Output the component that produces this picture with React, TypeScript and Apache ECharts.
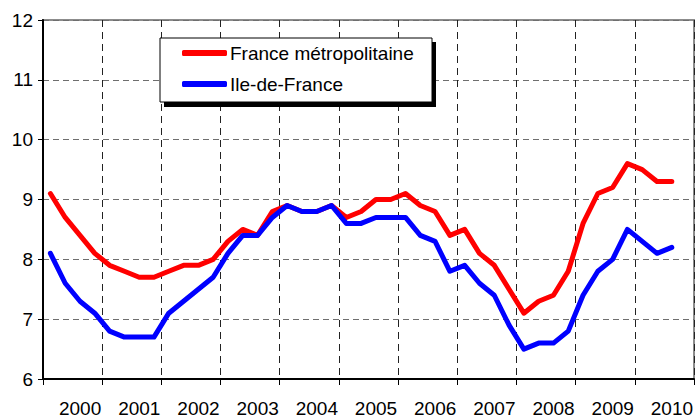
import React, { useEffect, useRef } from "react";
import * as echarts from "echarts";

const years = ["2000", "2001", "2002", "2003", "2004", "2005", "2006", "2007", "2008", "2009", "2010"];
const quarters: string[] = [];
years.forEach((y) => ["T1", "T2", "T3", "T4"].forEach((q) => quarters.push(y + " " + q)));

const franceMetro = [
  9.1, 8.7, 8.4, 8.1, 7.9, 7.8, 7.7, 7.7, 7.8, 7.9, 7.9, 8.0,
  8.3, 8.5, 8.4, 8.8, 8.9, 8.8, 8.8, 8.9, 8.7, 8.8, 9.0, 9.0,
  9.1, 8.9, 8.8, 8.4, 8.5, 8.1, 7.9, 7.5, 7.1, 7.3, 7.4, 7.8,
  8.6, 9.1, 9.2, 9.6, 9.5, 9.3, 9.3,
];
const ileDeFrance = [
  8.1, 7.6, 7.3, 7.1, 6.8, 6.7, 6.7, 6.7, 7.1, 7.3, 7.5, 7.7,
  8.1, 8.4, 8.4, 8.7, 8.9, 8.8, 8.8, 8.9, 8.6, 8.6, 8.7, 8.7,
  8.7, 8.4, 8.3, 7.8, 7.9, 7.6, 7.4, 6.9, 6.5, 6.6, 6.6, 6.8,
  7.4, 7.8, 8.0, 8.5, 8.3, 8.1, 8.2,
];
const seriesNames = ["France métropolitaine", "Ile-de-France"];

const FONT = "'Liberation Sans', Arial, sans-serif";

export default function App() {
  const ref = useRef<HTMLDivElement>(null);
  useEffect(() => {
    if (!ref.current) return;
    const chart = echarts.init(ref.current, null, { renderer: "svg" });
    chart.setOption({
      animation: false,
      backgroundColor: "#ffffff",
      textStyle: { fontFamily: FONT },
      grid: {
        left: 43,
        right: 1,
        top: 20,
        bottom: 41,
        show: true,
        borderColor: "#8c8c8c",
        borderWidth: 2,
        containLabel: false,
      },
      xAxis: [
        {
          type: "category",
          data: years,
          boundaryGap: true,
          position: "bottom",
          axisLine: { show: true, lineStyle: { color: "#000", width: 2 } },
          axisTick: { show: true, length: 6, lineStyle: { color: "#000", width: 1 } },
          axisLabel: {
            color: "#000",
            fontSize: 19,
            fontFamily: FONT,
            margin: 20,
            padding: [0, 0, 0, 15],
          },
          splitLine: { show: true, lineStyle: { color: "#222", type: [7, 5], width: 1 } },
        },
        {
          type: "category",
          data: quarters,
          boundaryGap: true,
          show: false,
        },
      ],
      yAxis: {
        type: "value",
        min: 6,
        max: 12,
        interval: 1,
        axisLine: { show: true, lineStyle: { color: "#000", width: 2 } },
        axisTick: { show: true, length: 5, lineStyle: { color: "#000", width: 1 } },
        axisLabel: { color: "#000", fontSize: 19, fontFamily: FONT, margin: 10 },
        splitLine: { show: true, lineStyle: { color: "#6e6e6e", type: [6, 4], width: 1.2 } },
      },
      legend: {
        show: true,
        orient: "vertical",
        left: 182,
        top: 42,
        padding: 0,
        itemGap: 9,
        itemWidth: 45,
        itemHeight: 6,
        icon: "roundRect",
        z: 10,
        textStyle: { color: "#000", fontSize: 19, fontFamily: FONT, lineHeight: 22, padding: [0, 0, 0, -2] },
        data: seriesNames,
      },
      graphic: [
        {
          type: "rect",
          z: 8,
          shape: { x: 164, y: 42, width: 272, height: 65 },
          style: { fill: "#000" },
        },
        {
          type: "rect",
          z: 9,
          shape: { x: 160, y: 38, width: 272, height: 64 },
          style: { fill: "#fff", stroke: "#000", lineWidth: 1 },
        },
      ],
      series: [
        {
          name: seriesNames[0],
          type: "line",
          xAxisIndex: 1,
          data: franceMetro,
          showSymbol: false,
          symbol: "none",
          lineStyle: { color: "#ff0000", width: 5, cap: "round", join: "round" },
          itemStyle: { color: "#ff0000" },
          z: 3,
        },
        {
          name: seriesNames[1],
          type: "line",
          xAxisIndex: 1,
          data: ileDeFrance,
          showSymbol: false,
          symbol: "none",
          lineStyle: { color: "#0000ff", width: 5, cap: "round", join: "round" },
          itemStyle: { color: "#0000ff" },
          z: 4,
        },
      ],
    });
    return () => chart.dispose();
  }, []);
  return <div ref={ref} style={{ width: 696, height: 420, position: "absolute", left: 0, top: 0 }} />;
}
